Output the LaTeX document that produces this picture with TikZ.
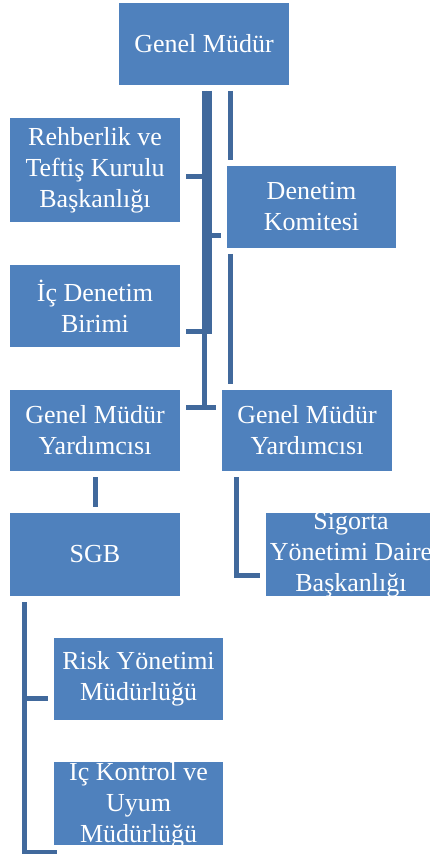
\documentclass[tikz,border=0pt]{standalone}
\usepackage{fontspec}
\setmainfont{Liberation Serif}
\definecolor{boxblue}{HTML}{4F81BD}
\definecolor{lineblue}{HTML}{41699C}
\tikzset{
  boxtext/.style={text=white, align=center, font=\fontsize{13}{15.5}\selectfont},
  box/.style={boxtext, fill=boxblue, minimum width=85pt, minimum height=41pt, inner sep=0pt, outer sep=3pt},
  link/.style={draw=lineblue, line width=2.5pt}
}
\begin{document}
\begin{tikzpicture}[x=0.5pt, y=-0.5pt]
            \useasboundingbox (0,0) rectangle (429,854);
            % boxes
            \node[box] (gm) at (204,44) {Genel Müdür};
            \node[box, minimum height=52pt] (reh) at (95,170) {Rehberlik ve\\Teftiş Kurulu\\Başkanlığı};
            \node[box, minimum width=84.5pt] (dk) at (311.5,207) {Denetim\\Komitesi};
            \node[box] (icd) at (95,306) {İç Denetim\\Birimi};
            \node[box, minimum height=40.5pt] (gmy1) at (95,430.5) {Genel Müdür\\Yardımcısı};
            \node[box, minimum height=40.5pt] (gmy2) at (307,430.5) {Genel Müdür\\Yardımcısı};
            \node[box, minimum height=41.5pt] (sgb) at (95,554.5) {SGB};
            \node[box, minimum height=41.5pt, path picture={
              \node[boxtext] at (path picture bounding box.center) {Sigorta\\Yönetimi Daire\\Başkanlığı};}] (sig) at (351,554.5) {};
            \node[box, minimum width=84.5pt] (risk) at (138.5,679) {Risk Yönetimi\\Müdürlüğü};
            \node[box, minimum width=84.5pt, minimum height=41.5pt, path picture={
              \node[boxtext] at (path picture bounding box.center) {İç Kontrol ve\\Uyum\\Müdürlüğü};}] (ick) at (138.5,803.5) {};
            % bends of the lines
            \coordinate (jreh) at (204,177);
            \coordinate (jdk) at (209,236);
            \coordinate (jicd) at (209,332);
            \coordinate (jgmy) at (204,408);
            \coordinate (jgm2) at (230.5,0);
            \coordinate (jsig) at (236,575);
            \coordinate (jrisk) at (24.5,698.5);
            \coordinate (jick) at (24.5,852);
            \coordinate (eick) at (57,852);
            % lines
            \draw[link] (gm.south -| jreh) -- (jreh) -- (reh.east |- jreh);
            \draw[link] (gm.south -| jdk) -- (jdk) -- (dk.west |- jdk);
            \draw[link] (gm.south -| jicd) -- (jicd) -- (icd.east |- jicd);
            \draw[link] (gm.south -| jgmy) -- (jgmy);
            \draw[link] (gmy1.east |- jgmy) -- (gmy2.west |- jgmy);
            \draw[link] (gm.south -| jgm2) -- (dk.north -| jgm2);
            \draw[link] (dk.south -| jgm2) -- (gmy2.north -| jgm2);
            \draw[link] (gmy1.south) -- (sgb.north);
            \draw[link] (gmy2.south -| jsig) -- (jsig) -- (sig.west |- jsig);
            \draw[link] (sgb.south -| jrisk) -- (jick) -- (eick);
            \draw[link] (jrisk) -- (risk.west |- jrisk);
\end{tikzpicture}
\end{document}
